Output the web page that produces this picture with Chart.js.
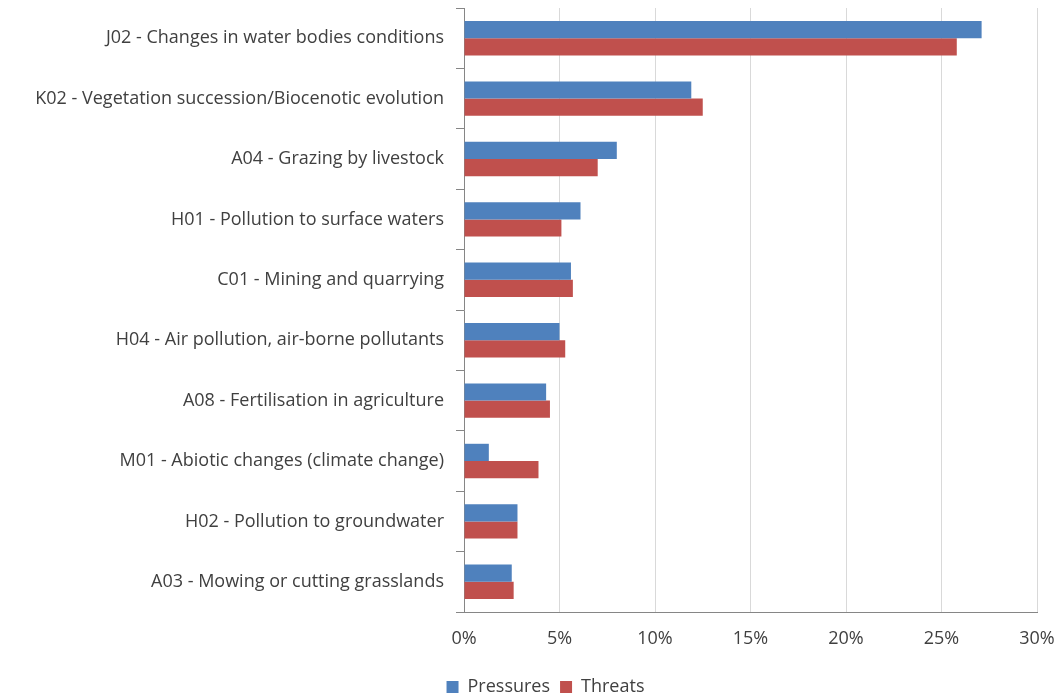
<!DOCTYPE html>
<html>
<head>
<meta charset="utf-8">
<script src="https://cdn.jsdelivr.net/npm/chart.js@4.4.0/dist/chart.umd.min.js"></script>
<style>
  html, body { margin: 0; padding: 0; background: #fff; }
  #wrap { width: 1062px; height: 697px; }
</style>
</head>
<body>
<div id="wrap"><canvas id="chart" width="1062" height="697"></canvas></div>
<script>
const categories = [
  'J02 - Changes in water bodies conditions',
  'K02 - Vegetation succession/Biocenotic evolution',
  'A04 - Grazing by livestock',
  'H01 - Pollution to surface waters',
  'C01 - Mining and quarrying',
  'H04 - Air pollution, air-borne pollutants',
  'A08 - Fertilisation in agriculture',
  'M01 - Abiotic changes (climate change)',
  'H02 - Pollution to groundwater',
  'A03 - Mowing or cutting grasslands'
]
const pressures = [27.1, 11.9, 8.0, 6.1, 5.6, 5.0, 4.3, 1.3, 2.8, 2.5]
const threats   = [25.8, 12.5, 7.0, 5.1, 5.7, 5.3, 4.5, 3.9, 2.8, 2.6]

const FONT = 'Open Sans'
const TEXT = '#404040'

// legend sits a bit right of the canvas centre in the original
const legendNudge = {
  id: 'legendNudge',
  afterLayout(chart) {
    if (chart.legend) chart.legend.left += 54
  }
}

const ctx = document.getElementById('chart').getContext('2d')
new Chart(ctx, {
  type: 'bar',
  data: {
    labels: categories,
    datasets: [
      {
        label: 'Pressures',
        data: pressures,
        backgroundColor: '#4F81BD',
        borderWidth: 0,
        barPercentage: 1,
        categoryPercentage: 0.57
      },
      {
        label: 'Threats',
        data: threats,
        backgroundColor: '#C0504D',
        borderWidth: 0,
        barPercentage: 1,
        categoryPercentage: 0.57
      }
    ]
  },
  plugins: [legendNudge],
  options: {
    indexAxis: 'y',
    responsive: false,
    animation: false,
    layout: { padding: { top: 8, right: 25, bottom: -9, left: 0 } },
    plugins: {
      tooltip: { enabled: false },
      legend: {
        position: 'bottom',
        labels: {
          boxWidth: 12,
          boxHeight: 12,
          padding: 10,
          color: TEXT,
          font: { family: FONT, size: 18 }
        }
      }
    },
    scales: {
      x: {
        min: 0,
        max: 30,
        ticks: {
          stepSize: 5,
          padding: 16,
          color: TEXT,
          font: { family: FONT, size: 18 },
          callback: v => v + '%'
        },
        grid: { color: '#d9d9d9', lineWidth: 1, drawTicks: false },
        border: { color: '#868686' },
        afterFit: s => { s.height = 56; s.paddingRight = 0; s.paddingLeft = 0 }
      },
      y: {
        ticks: {
          padding: 12,
          color: TEXT,
          font: { family: FONT, size: 18 }
        },
        grid: {
          offset: true,
          drawOnChartArea: false,
          tickLength: 8,
          color: '#868686'
        },
        border: { color: '#868686' },
        afterFit: s => { s.width = 464; s.paddingTop = 0; s.paddingBottom = 0 }
      }
    }
  }
})
</script>
</body>
</html>
